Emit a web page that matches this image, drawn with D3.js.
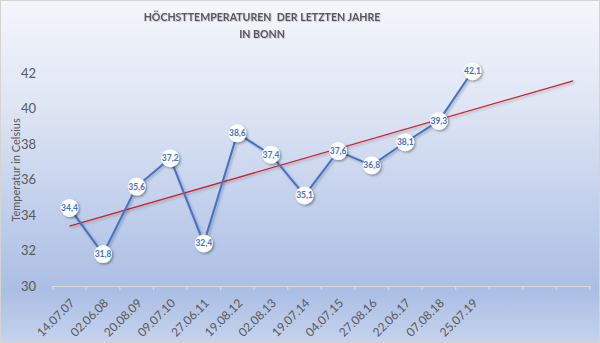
<!DOCTYPE html>
<html><head><meta charset="utf-8">
<script src="https://cdn.jsdelivr.net/npm/d3@7"></script>
<style>body{margin:0;background:#fff}svg{display:block}</style>
</head><body>
<script>
const categories = ["14.07.07","02.06.08","20.08.09","09.07.10","27.06.11","19.08.12","02.08.13","19.07.14","04.07.15","27.08.16","22.06.17","07.08.18","25.07.19","","",""];
const temperatures = [34.4,31.8,35.6,37.2,32.4,38.6,37.4,35.1,37.6,36.8,38.1,39.3,42.1];
const yTicks = [30,32,34,36,38,40,42];
const titleLines = ["HÖCHSTTEMPERATUREN  DER LETZTEN JAHRE","IN BONN"];
const yTitle = "Temperatur in Celsius";

const W=600,H=343;
const svg=d3.select("body").append("svg").attr("width",W).attr("height",H);
const defs=svg.append("defs");
const g=defs.append("linearGradient").attr("id","bg").attr("x1",0).attr("y1",0).attr("x2",0).attr("y2",1);
[[0,"#f4f6fb"],[0.3,"#dfe6f4"],[0.6,"#c2d0ec"],[0.85,"#abbee4"],[1,"#c6d3ed"]].forEach(s=>g.append("stop").attr("offset",s[0]).attr("stop-color",s[1]));
const sh=defs.append("filter").attr("id","sh").attr("x","-50%").attr("y","-50%").attr("width","200%").attr("height","200%");
sh.append("feDropShadow").attr("dx",1.5).attr("dy",1.5).attr("stdDeviation",1.2).attr("flood-color","#000").attr("flood-opacity",0.35);
const shl=defs.append("filter").attr("id","shl").attr("x","-10%").attr("y","-10%").attr("width","120%").attr("height","120%");
shl.append("feDropShadow").attr("dx",1.5).attr("dy",1.5).attr("stdDeviation",1).attr("flood-color","#000").attr("flood-opacity",0.25);
const sht=defs.append("filter").attr("id","sht").attr("x","-10%").attr("y","-30%").attr("width","120%").attr("height","160%");
sht.append("feDropShadow").attr("dx",0.8).attr("dy",0.8).attr("stdDeviation",0.6).attr("flood-color","#000").attr("flood-opacity",0.2);

svg.append("rect").attr("x",0.5).attr("y",0.5).attr("width",W-1).attr("height",H-1).attr("fill","url(#bg)").attr("stroke","#d4d4d4");

const x=d3.scaleBand().domain(d3.range(categories.length)).range([52.7,590]);
const y=d3.scaleLinear().domain([30,42]).range([286,73]);
const cx=i=>x(i)+x.bandwidth()/2;

// title
svg.append("g").attr("filter","url(#sht)").selectAll("text").data(titleLines).join("text")
  .attr("x",262).attr("y",(d,i)=>21+i*16.5).attr("text-anchor","middle")
  .attr("font-family","Lato, 'Open Sans', sans-serif").attr("font-weight","bold").attr("font-size",10.6)
  .attr("fill","#595959").attr("xml:space","preserve").style("white-space","pre").text(d=>d);

// y axis labels
const ya=svg.append("g").attr("transform","translate(36,0)").call(d3.axisLeft(y).tickValues(yTicks).tickSize(0).tickPadding(0).tickFormat(d3.format("d")));
ya.select(".domain").remove();
ya.selectAll("text").attr("font-family","Lato, 'Open Sans', sans-serif").attr("font-size",13).attr("fill","#595959");

svg.append("text").attr("transform","translate(20,170) rotate(-90)").attr("text-anchor","middle")
  .attr("font-family","Lato, 'Open Sans', sans-serif").attr("font-size",11).attr("fill","#595959").text(yTitle);

// x axis
const xa=svg.append("g").attr("transform","translate(0,286)")
  .call(d3.axisBottom(x).tickValues([]).tickSizeOuter(0));
xa.select(".domain").attr("stroke","#d9d9d9").attr("stroke-width",1.2);
const bounds=d3.range(categories.length+1).map(i=>i<categories.length?x(i):x.range()[1]);
xa.selectAll("line.tk").data(bounds).join("line").attr("class","tk").attr("x1",d=>d).attr("x2",d=>d).attr("y1",0).attr("y2",4).attr("stroke","#d9d9d9").attr("stroke-width",1.2);
xa.selectAll("text.lb").data(categories).join("text").attr("class","lb")
  .attr("transform",(d,i)=>`translate(${cx(i)},${12}) rotate(-45)`).attr("text-anchor","end").attr("dy","0.7em")
  .attr("font-family","Lato, 'Open Sans', sans-serif").attr("font-size",12).attr("fill","#595959").text(d=>d);

// trendline (linear regression, extended to last category)
const n=temperatures.length, mx=d3.mean(d3.range(n)), my=d3.mean(temperatures);
const slope=d3.sum(temperatures,(v,i)=>(i-mx)*(v-my))/d3.sum(d3.range(n),i=>(i-mx)**2);
const icpt=my-slope*mx;
const last=categories.length-1;
svg.append("line").attr("x1",cx(0)).attr("y1",y(icpt)).attr("x2",cx(last)).attr("y2",y(icpt+slope*last))
  .attr("stroke","#d0202a").attr("stroke-width",1.3).attr("filter","url(#shl)");

// series line
svg.append("path").datum(temperatures).attr("fill","none").attr("stroke","#4472c4").attr("stroke-width",2)
  .attr("filter","url(#shl)").attr("d",d3.line().x((d,i)=>cx(i)).y(d=>y(d)));

const pts=svg.append("g").selectAll("g").data(temperatures).join("g").attr("transform",(d,i)=>`translate(${cx(i)},${y(d)})`);
pts.append("circle").attr("r",9).attr("fill","#fff").attr("filter","url(#sh)");
pts.append("text").attr("text-anchor","middle").attr("dy","0.35em")
  .attr("font-family","Lato, 'Open Sans', sans-serif").attr("font-weight","bold").attr("font-size",8.5).attr("fill","#4472c4")
  .text(d=>d.toFixed(1).replace(".",","));
</script>
</body></html>
